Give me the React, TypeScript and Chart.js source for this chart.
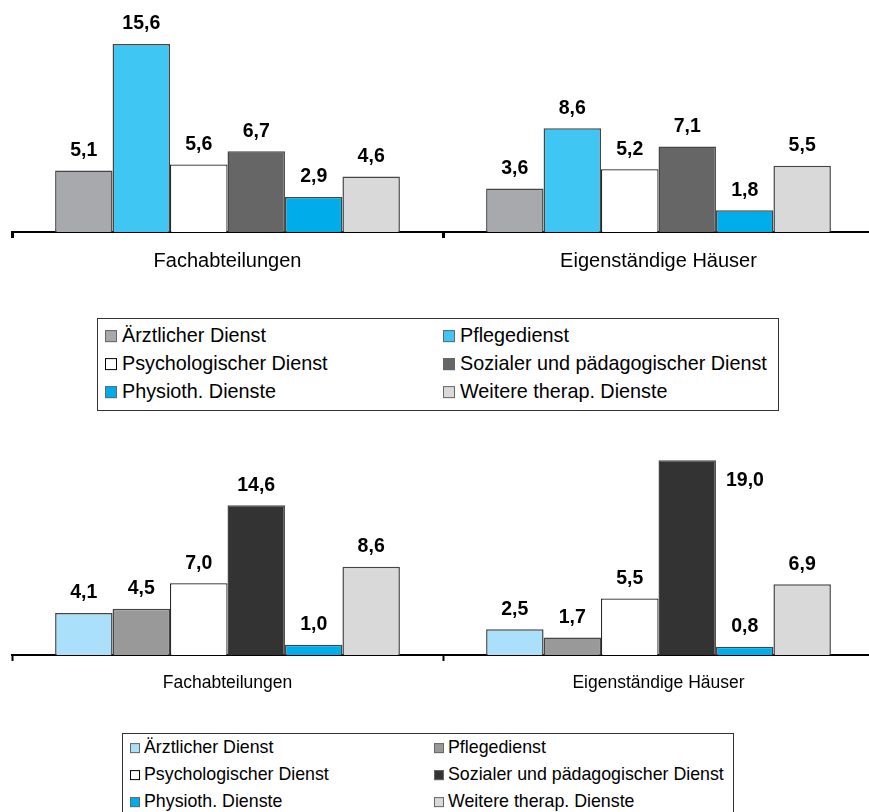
import React, { useEffect, useRef } from "react";
import { Chart, registerables } from "chart.js";

Chart.register(...registerables);

const FONT = "'Liberation Sans', Arial, Helvetica, sans-serif";

// Categories on the x axis
const categories = ["Fachabteilungen", "Eigenständige Häuser"];

// Service groups (legend entries, one bar each per category)
const services = [
  "Ärztlicher Dienst",
  "Pflegedienst",
  "Psychologischer Dienst",
  "Sozialer und pädagogischer Dienst",
  "Physioth. Dienste",
  "Weitere therap. Dienste",
];

// Upper panel: values for [Fachabteilungen, Eigenständige Häuser]
const upperAerztlich = [5.1, 3.6];
const upperPflege = [15.6, 8.6];
const upperPsych = [5.6, 5.2];
const upperSozial = [6.7, 7.1];
const upperPhysio = [2.9, 1.8];
const upperWeitere = [4.6, 5.5];

// Lower panel: values for [Fachabteilungen, Eigenständige Häuser]
const lowerAerztlich = [4.1, 2.5];
const lowerPflege = [4.5, 1.7];
const lowerPsych = [7.0, 5.5];
const lowerSozial = [14.6, 19.0];
const lowerPhysio = [1.0, 0.8];
const lowerWeitere = [8.6, 6.9];

const upperColors = ["#a7a9ac", "#40c6f2", "#ffffff", "#666666", "#00adeb", "#d9d9d9"];
const lowerColors = ["#aae0f9", "#999999", "#ffffff", "#333333", "#00adeb", "#d9d9d9"];

const upperSeries = [upperAerztlich, upperPflege, upperPsych, upperSozial, upperPhysio, upperWeitere];
const lowerSeries = [lowerAerztlich, lowerPflege, lowerPsych, lowerSozial, lowerPhysio, lowerWeitere];

// Value labels above each bar; a label that would leave the plot area goes beside its bar
const valueLabels = {
  id: "valueLabels",
  afterDatasetsDraw(chart: any) {
    const ctx = chart.ctx;
    const top = chart.chartArea.top;
    ctx.save();
    ctx.font = `bold 19.5px ${FONT}`;
    ctx.fillStyle = "#000";
    ctx.textBaseline = "middle";
    chart.data.datasets.forEach((ds: any, di: number) => {
      const meta = chart.getDatasetMeta(di);
      meta.data.forEach((bar: any, i: number) => {
        const v = ds.data[i] as number;
        const text = v.toFixed(1).replace(".", ",");
        const { x, y, width } = bar.getProps(["x", "y", "width"], true);
        const cy = y - 20;
        if (cy - 9 < top) {
          ctx.textAlign = "left";
          ctx.fillText(text, x + width / 2 + 10, y + 20);
        } else {
          ctx.textAlign = "center";
          ctx.fillText(text, x, cy);
        }
      });
    });
    ctx.restore();
  },
};

type PanelProps = {
  series: number[][];
  colors: string[];
  yMax: number;
  top: number;
  height: number;
  padTop: number;
  labelSize: number;
  labelPad: number;
  tickWidth: number;
};

function BarPanel(props: PanelProps) {
  const ref = useRef<HTMLCanvasElement | null>(null);
  useEffect(() => {
    const canvas = ref.current;
    if (!canvas) return;
    const chart = new Chart(canvas, {
      type: "bar",
      data: {
        labels: categories,
        datasets: props.series.map((vals, i) => ({
          label: services[i],
          data: vals,
          backgroundColor: props.colors[i],
          borderColor: i === 2 ? "#1a1a1a" : "#454545",
          borderWidth: i === 2 ? 1.2 : 1.5,
          categoryPercentage: 0.8,
          barPercentage: 1,
        })),
      },
      options: {
        responsive: false,
        animation: false,
        events: [],
        layout: { padding: { left: 12, top: props.padTop, right: 0, bottom: 0 } },
        plugins: {
          legend: { display: false },
          tooltip: { enabled: false },
          title: { display: false },
        },
        scales: {
          x: {
            offset: true,
            grid: {
              display: true,
              offset: true,
              drawOnChartArea: false,
              drawTicks: true,
              tickLength: 6,
              tickWidth: props.tickWidth,
              tickColor: "#000",
              color: "#000",
            },
            border: { display: true, color: "#000", width: 2 },
            ticks: {
              color: "#000",
              font: { family: FONT, size: props.labelSize },
              padding: props.labelPad,
            },
            afterFit: (s: any) => {
              s.height = 50;
            },
          },
          y: {
            display: false,
            min: 0,
            max: props.yMax,
          },
        },
      },
      plugins: [valueLabels],
    });
    return () => chart.destroy();
  }, []);
  return (
    <canvas
      ref={ref}
      width={874}
      height={props.height}
      style={{ position: "absolute", left: 0, top: props.top }}
    />
  );
}

type LegendProps = {
  colors: string[];
  left: number;
  top: number;
  width: number;
  height: number;
  rowY: number[];
  col1: number;
  col2: number;
  square: number;
  textGap: number;
  fontSize: number;
};

function Legend(p: LegendProps) {
  const items = services.map((name, i) => {
    const col = i % 2;
    const row = Math.floor(i / 2);
    return (
      <div
        key={name}
        style={{
          position: "absolute",
          left: col === 0 ? p.col1 : p.col2,
          top: p.rowY[row],
          transform: "translateY(-50%)",
          display: "flex",
          alignItems: "center",
          whiteSpace: "nowrap",
        }}
      >
        <span
          style={{
            display: "inline-block",
            width: p.square,
            height: p.square,
            boxSizing: "border-box",
            background: p.colors[i],
            border: i === 2 ? "1.5px solid #000" : "1px solid #666",
            marginRight: p.textGap,
          }}
        />
        <span style={{ fontFamily: FONT, fontSize: p.fontSize, color: "#000", lineHeight: 1 }}>{name}</span>
      </div>
    );
  });
  return (
    <div
      style={{
        position: "absolute",
        left: p.left,
        top: p.top,
        width: p.width,
        height: p.height,
        boxSizing: "border-box",
        border: "1.5px solid #333",
        background: "#fff",
      }}
    >
      {items}
    </div>
  );
}

export default function App() {
  return (
    <div
      style={{
        position: "absolute",
        left: 0,
        top: 0,
        width: 869,
        height: 812,
        overflow: "hidden",
        background: "#fff",
      }}
    >
      <BarPanel
        series={upperSeries}
        colors={upperColors}
        yMax={18.5}
        top={0}
        height={282}
        padTop={9}
        labelSize={20}
        labelPad={11}
        tickWidth={3}
      />
      <Legend
        colors={upperColors}
        left={97}
        top={318}
        width={682}
        height={93}
        rowY={[17, 45, 73]}
        col1={7}
        col2={345}
        square={12}
        textGap={5}
        fontSize={19.8}
      />
      <BarPanel
        series={lowerSeries}
        colors={lowerColors}
        yMax={19.5}
        top={430}
        height={275}
        padTop={25}
        labelSize={17.5}
        labelPad={12}
        tickWidth={2}
      />
      <Legend
        colors={lowerColors}
        left={122}
        top={733}
        width={612}
        height={100}
        rowY={[14, 41, 68]}
        col1={7}
        col2={311}
        square={10}
        textGap={4}
        fontSize={17.8}
      />
    </div>
  );
}
